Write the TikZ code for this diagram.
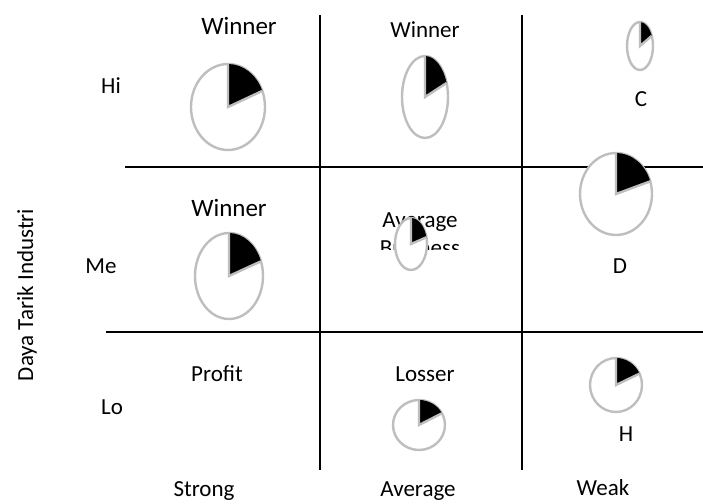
\documentclass[tikz,border=0pt]{standalone}
\usepackage{fontspec}
\setmainfont{Carlito}
\definecolor{GridBlack}{HTML}{000000}
\definecolor{PieGray}{HTML}{BEBEBE}
\definecolor{PieWhite}{HTML}{FFFFFF}
\definecolor{PieBlack}{HTML}{000000}
\tikzset{
    gridline/.style={
        draw=GridBlack,
        line width=2pt
    },
    celltext/.style={
        text=GridBlack,
        font=\fontsize{23}{27}\selectfont,
        inner sep=0pt
    },
    bigtext/.style={
        celltext,
        font=\fontsize{25}{29}\selectfont
    },
    pics/sharepie/.style args={#1/#2/#3}{
        code={
            \filldraw[fill=PieWhite, draw=PieGray, line width=2.4pt]
                (0,0) ellipse[x radius=#1pt, y radius=#2pt];
            \fill[PieBlack] (0,0) -- (0,#2)
                arc[start angle=90, end angle=#3, x radius=#1pt, y radius=#2pt] -- cycle;
            \draw[PieGray, line width=2.4pt] (0,#2) -- (0,0) -- (#3:#1pt and #2pt);
        }
    }
}

\begin{document}
\begin{tikzpicture}[x=1pt, y=1pt]
        \useasboundingbox (0,0) rectangle (703,503);

        % Grid lines
        \coordinate (colA top) at (320,488);
        \coordinate (colA bottom) at (320,33);
        \coordinate (colB top) at (522,488);
        \coordinate (colB bottom) at (522,33);
        \coordinate (rowA left) at (125,336);
        \coordinate (rowA right) at (703,336);
        \coordinate (rowB left) at (106,171);
        \coordinate (rowB right) at (703,171);
        \draw[gridline] (colA top) -- (colA bottom);
        \draw[gridline] (colB top) -- (colB bottom);
        \draw[gridline] (rowA left) -- (rowA right);
        \draw[gridline] (rowB left) -- (rowB right);

        % Axis labels
        \node[celltext, rotate=90] (yaxis) at (27,208) {Daya Tarik Industri};
        \node[celltext] (hi) at (111,417) {Hi};
        \node[celltext] (me) at (101,237) {Me};
        \node[celltext] (lo) at (112,96) {Lo};
        \node[celltext] (strong) at (204,12) {Strong};
        \node[celltext] (average) at (418,12) {Average};
        \node[celltext] (weak) at (603,15) {Weak};

        % Cell texts
        \node[bigtext] (winner hi) at (239,477) {Winner};
        \node[celltext] (winner mid) at (425,473) {Winner};
        \node[celltext] (cell c) at (641,404) {C};
        \node[bigtext] (winner me) at (229,295) {Winner};
        \node[celltext] (avg top) at (420,281) {Average};
        \begin{scope}
            \clip (360,253) rectangle (480,270);
            \node[celltext] (avg bottom) at (420,255) {Business};
        \end{scope}
        \node[celltext] (cell d) at (620,237) {D};
        \node[celltext] (profit) at (217,129) {Profit};
        \node[celltext] (losser) at (425,129) {Losser};
        \node[celltext] (cell h) at (626,69) {H};

        % Pies
        \pic at (228,396) {sharepie={37/43/22}};
        \pic at (425,406) {sharepie={23/41/20}};
        \pic at (640,457) {sharepie={13/24/25}};
        \pic at (616,309) {sharepie={36/41/18}};
        \pic at (411,259) {sharepie={16/26/15}};
        \pic at (229,227) {sharepie={34/43/20}};
        \pic at (616,118) {sharepie={26/27/25}};
        \pic at (419,78) {sharepie={26/25/28}};
    \end{tikzpicture}
\end{document}
